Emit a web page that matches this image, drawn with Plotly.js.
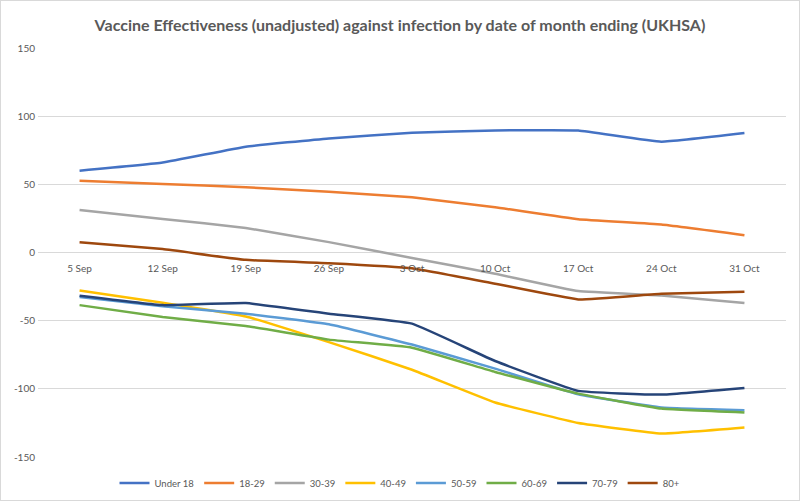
<!DOCTYPE html>
<html>
<head>
<meta charset="utf-8">
<script src="https://cdn.plot.ly/plotly-3.0.1.min.js"></script>
<style>
  html, body { margin: 0; padding: 0; background: #fff; }
  #chart { width: 800px; height: 501px; box-sizing: border-box; border: 1px solid #d9d9d9; }
</style>
</head>
<body>
<div id="chart"></div>
<script>
const categories = ["5 Sep", "12 Sep", "19 Sep", "26 Sep", "3 Oct", "10 Oct", "17 Oct", "24 Oct", "31 Oct"];

const under18 = [60, 66, 77.6, 83.7, 87.8, 89.5, 89.5, 81.3, 87.6];
const age18_29 = [52.7, 50.3, 47.8, 44.6, 40.5, 33.2, 24.4, 20.5, 12.7];
const age30_39 = [31.2, 24.6, 18, 7.6, -4, -15.6, -28.3, -31.5, -37.1];
const age40_49 = [-27.8, -36.8, -46.9, -65.7, -86, -110, -125, -132.7, -128.3];
const age50_59 = [-32.7, -39.5, -44.9, -52.7, -67.5, -85.2, -104, -113.7, -115.7];
const age60_69 = [-38.6, -47.3, -53.9, -63.9, -69.8, -87.6, -103.5, -114.5, -117.4];
const age70_79 = [-31.7, -38.6, -37.1, -44.9, -52.2, -79.6, -101.5, -104.2, -99.3];
const age80plus = [7.6, 2.5, -5.4, -7.8, -11.5, -22.9, -34.4, -30.3, -28.8];

const seriesNames = ["Under 18", "18-29", "30-39", "40-49", "50-59", "60-69", "70-79", "80+"];
const seriesValues = [under18, age18_29, age30_39, age40_49, age50_59, age60_69, age70_79, age80plus];
const seriesColors = ["#4472C4", "#ED7D31", "#A5A5A5", "#FFC000", "#5B9BD5", "#70AD47", "#264478", "#9E480E"];

const yTickVals = [-150, -100, -50, 0, 50, 100, 150];
const yTickText = ["-150", "-100", "-50", "0", "50", "100", "150"];

const titleText = "Vaccine Effectiveness (unadjusted) against infection by date of month ending (UKHSA)";

const traces = seriesNames.map((name, i) => ({
  type: "scatter",
  mode: "lines",
  name: name,
  x: categories,
  y: seriesValues[i],
  line: { color: seriesColors[i], width: 2.5, shape: "spline", smoothing: 0.3 },
  hoverinfo: "x+y+name"
}));

const FONT = "Lato, 'Open Sans', 'Liberation Sans', sans-serif";

const layout = {
  width: 798,
  height: 499,
  margin: { l: 37, r: 13, t: 47, b: 43 },
  paper_bgcolor: "#ffffff",
  plot_bgcolor: "#ffffff",
  font: { family: FONT, color: "#595959", size: 10 },
  title: {
    text: titleText,
    font: { family: FONT, size: 16, color: "#595959", weight: "bold" },
    x: 0.5,
    xanchor: "center",
    xref: "container",
    y: 0.952,
    yref: "container",
    yanchor: "middle"
  },
  xaxis: {
    type: "category",
    anchor: "free",
    position: 0.5,
    showgrid: false,
    showline: false,
    zeroline: false,
    ticks: "",
    ticklabelstandoff: 8,
    tickfont: { family: FONT, size: 10, color: "#595959" },
    range: [-0.5, categories.length - 0.5],
    fixedrange: true
  },
  yaxis: {
    range: [-150, 150],
    tickvals: yTickVals,
    ticktext: yTickText,
    showgrid: true,
    gridcolor: "#d9d9d9",
    gridwidth: 1,
    zeroline: false,
    showline: false,
    ticks: "",
    ticklabelstandoff: 2,
    tickfont: { family: FONT, size: 10, color: "#595959" },
    fixedrange: true
  },
  showlegend: true,
  legend: {
    orientation: "h",
    x: 0.5,
    xanchor: "center",
    xref: "container",
    y: 0.034,
    yref: "container",
    yanchor: "middle",
    font: { family: FONT, size: 9.5, color: "#595959" },
    itemwidth: 30,
    tracegroupgap: 0
  }
};

Plotly.newPlot("chart", traces, layout, { displayModeBar: false });
</script>
</body>
</html>
